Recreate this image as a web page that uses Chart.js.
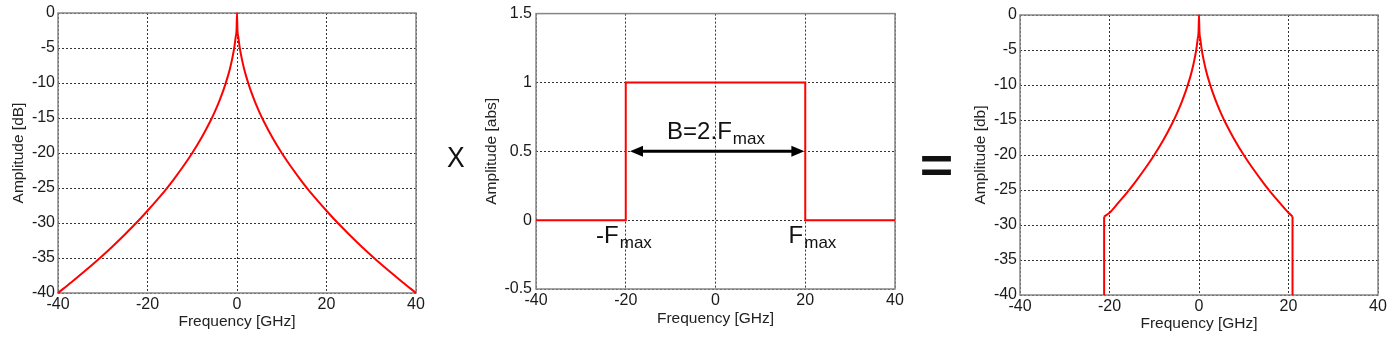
<!DOCTYPE html>
<html><head><meta charset="utf-8">
<script src="https://cdn.jsdelivr.net/npm/chart.js@4.4.0/dist/chart.umd.min.js"></script>
<style>
html,body{margin:0;padding:0;background:#fff;}
body{width:1390px;height:338px;position:relative;overflow:hidden;font-family:"Liberation Sans",Arial,sans-serif;}
.box{position:absolute;top:0;height:338px;}
#ops{position:absolute;left:0;top:0;pointer-events:none;}
</style></head><body>
<div class="box" style="left:0;width:430px"><canvas id="c1"></canvas></div>
<div class="box" style="left:470px;width:440px"><canvas id="c2"></canvas></div>
<div class="box" style="left:960px;width:430px"><canvas id="c3"></canvas></div>
<canvas id="ops" width="1390" height="338"></canvas>
<script>
// ---- data ----
const freqTicks = [-40, -20, 0, 20, 40];
const dbTicks = [0, -5, -10, -15, -20, -25, -30, -35, -40];
const absTicks = [1.5, 1, 0.5, 0, -0.5];

// Spectrum (left chart)
const spectrumFreq = [-40, -37, -34, -31, -28, -25, -22, -20, -18, -16, -14, -12, -10, -8, -6, -5, -4, -3, -2, -1.5, -1, -0.6, -0.3, -0.1, 0,
  0.1, 0.3, 0.6, 1, 1.5, 2, 3, 4, 5, 6, 8, 10, 12, 14, 16, 18, 20, 22, 25, 28, 31, 34, 37, 40];
const spectrumDb = [-40, -38.45, -36.85, -35.2, -33.45, -31.6, -29.65, -28.25, -26.8, -25.3, -23.65, -21.9, -20.0, -17.9, -15.5, -14.15, -12.65, -10.95, -8.95, -7.75, -6.3, -4.9, -3.45, -2.4, 0,
  -2.4, -3.45, -4.9, -6.3, -7.75, -8.95, -10.95, -12.65, -14.15, -15.5, -17.9, -20.0, -21.9, -23.65, -25.3, -26.8, -28.25, -29.65, -31.6, -33.45, -35.2, -36.85, -38.45, -40];

// Rectangular window (middle chart)
const windowFreq = [-40, -20, -20, 20, 20, 40];
const windowAmp = [0, 0, 1, 1, 0, 0];

// Filtered spectrum (right chart): curve inside the band, then the band edges
const filteredFreq = [-21.2, -20, -18, -16, -14, -12, -10, -8, -6, -5, -4, -3, -2, -1.5, -1, -0.6, -0.3, -0.1, 0,
  0.1, 0.3, 0.6, 1, 1.5, 2, 3, 4, 5, 6, 8, 10, 12, 14, 16, 18, 20, 20.9];
const filteredDb = [-28.8, -28.25, -26.8, -25.3, -23.65, -21.9, -20.0, -17.9, -15.5, -14.15, -12.65, -10.95, -8.95, -7.75, -6.3, -4.9, -3.45, -2.4, 0,
  -2.4, -3.45, -4.9, -6.3, -7.75, -8.95, -10.95, -12.65, -14.15, -15.5, -17.9, -20.0, -21.9, -23.65, -25.3, -26.8, -28.25, -28.8];
const edgeLeftFreq = [-21.2, -21.2], edgeLeftDb = [-40, -28.8];
const edgeRightFreq = [20.9, 20.9], edgeRightDb = [-28.8, -40];

// Annotation values for the middle chart
const arrowFrom = -19.05, arrowTo = 19.8, arrowLevel = 0.5;
const bwLabel = ['B=2.F', 'max'];
const fmaxLeft = ['-F', 'max'];
const fmaxRight = ['F', 'max'];
const operators = ['X', '='];

// ---- helpers ----
const FONT = '"Liberation Sans", Arial, sans-serif';
const pts = (xs, ys) => xs.map((x, i) => ({x, y: ys[i]}));

const borderPlugin = {
  id: 'frame',
  beforeDatasetsDraw(chart) {
    const {ctx, chartArea: a} = chart;
    ctx.save();
    ctx.strokeStyle = '#868686';
    ctx.lineWidth = 1.5;
    ctx.strokeRect(a.left, a.top, a.right - a.left, a.bottom - a.top);
    ctx.restore();
  }
};

function ds(xs, ys, smooth) {
  return {
    data: pts(xs, ys),
    borderColor: '#ff0000', borderWidth: 2, pointRadius: 0,
    tension: smooth ? 0.4 : 0,
    cubicInterpolationMode: smooth ? 'monotone' : 'default',
    clip: 3, fill: false
  };
}

function makeChart(id, datasets, yTicks, yTitle, geo, extraPlugins) {
  return new Chart(document.getElementById(id), {
    type: 'line',
    data: { datasets },
    options: {
      responsive: true, maintainAspectRatio: false, animation: false, events: [],
      layout: { padding: { top: geo.top, right: geo.right, left: 0, bottom: 0 } },
      plugins: { legend: { display: false }, tooltip: { enabled: false } },
      scales: {
        x: {
          type: 'linear', min: -40, max: 40,
          afterBuildTicks: s => { s.ticks = freqTicks.map(v => ({value: v})); },
          afterFit: s => { s.height = geo.xh; },
          ticks: { autoSkip: false, maxRotation: 0, padding: geo.xpad, color: '#1a1a1a',
                   font: { family: FONT, size: 16, lineHeight: 1.2 }, callback: v => String(v) },
          grid: { color: 'rgba(0,0,0,0.8)', lineWidth: 1, drawTicks: false },
          border: { display: false, dash: [2, 2] },
          title: { display: true, text: 'Frequency [GHz]', color: '#222',
                   font: { family: FONT, size: 15.5, lineHeight: 1.2 }, padding: { top: 0, bottom: geo.xtb } }
        },
        y: {
          type: 'linear', min: geo.ymin, max: geo.ymax,
          afterBuildTicks: s => { s.ticks = yTicks.map(v => ({value: v})); },
          afterFit: s => { s.width = geo.yw; },
          ticks: { autoSkip: false, padding: geo.ypad, color: '#1a1a1a',
                   font: { family: FONT, size: 16, lineHeight: 1.2 }, callback: v => String(v) },
          grid: { color: 'rgba(0,0,0,0.8)', lineWidth: 1, drawTicks: false },
          border: { display: false, dash: [2, 2] },
          title: { display: true, text: yTitle, color: '#222',
                   font: { family: FONT, size: 15.5, lineHeight: 1.2 }, padding: { top: geo.ytt, bottom: 0 } }
        }
      }
    },
    plugins: [borderPlugin].concat(extraPlugins || [])
  });
}

function subText(ctx, main, sub, x, yMain, yOffSub, align, mainSize, subSize) {
  ctx.font = mainSize + 'px ' + FONT;
  const wm = ctx.measureText(main).width;
  ctx.font = subSize + 'px ' + FONT;
  const ws = ctx.measureText(sub).width;
  const start = align === 'center' ? x - (wm + ws) / 2 : x - wm;
  ctx.textBaseline = 'alphabetic';
  ctx.textAlign = 'left';
  ctx.font = mainSize + 'px ' + FONT;
  ctx.fillText(main, start, yMain);
  ctx.font = subSize + 'px ' + FONT;
  ctx.fillText(sub, start + wm + 1, yMain + yOffSub);
}

const annotPlugin = {
  id: 'annot',
  afterDatasetsDraw(chart) {
    const {ctx, scales: {x, y}} = chart;
    ctx.save();
    ctx.fillStyle = '#000';
    ctx.strokeStyle = '#000';
    const x1 = x.getPixelForValue(arrowFrom), x2 = x.getPixelForValue(arrowTo), ya = y.getPixelForValue(arrowLevel);
    const hl = 13, hw = 5.5;
    ctx.lineWidth = 3;
    ctx.beginPath(); ctx.moveTo(x1 + hl - 1, ya); ctx.lineTo(x2 - hl + 1, ya); ctx.stroke();
    ctx.beginPath(); ctx.moveTo(x1, ya); ctx.lineTo(x1 + hl, ya - hw); ctx.lineTo(x1 + hl, ya + hw); ctx.closePath(); ctx.fill();
    ctx.beginPath(); ctx.moveTo(x2, ya); ctx.lineTo(x2 - hl, ya - hw); ctx.lineTo(x2 - hl, ya + hw); ctx.closePath(); ctx.fill();
    ctx.fillStyle = '#111';
    subText(ctx, bwLabel[0], bwLabel[1], x.getPixelForValue(0), ya - 12.6, 5, 'center', 24, 17);
    const y0 = y.getPixelForValue(0);
    subText(ctx, fmaxLeft[0], fmaxLeft[1], x.getPixelForValue(-20) - 7, y0 + 22.7, 5, 'end', 24, 17);
    subText(ctx, fmaxRight[0], fmaxRight[1], x.getPixelForValue(20) - 2, y0 + 22.7, 5, 'end', 24, 17);
    ctx.restore();
  }
};

makeChart('c1', [ds(spectrumFreq, spectrumDb, true)], dbTicks, 'Amplitude [dB]',
  { top: 13, right: 14, xh: 45, yw: 58, ymin: -40, ymax: 0, xpad: 2, ypad: 3, xtb: 7, ytt: 9 });
makeChart('c2', [ds(windowFreq, windowAmp, false)], absTicks, 'Amplitude [abs]',
  { top: 9, right: 15, xh: 49, yw: 66, ymin: -0.5, ymax: 1.5, xpad: 2, ypad: 4, xtb: 10, ytt: 12.7 }, [annotPlugin]);
makeChart('c3', [ds(filteredFreq, filteredDb, true), ds(edgeLeftFreq, edgeLeftDb, false), ds(edgeRightFreq, edgeRightDb, false)],
  dbTicks, 'Amplitude [db]',
  { top: 15, right: 12, xh: 43, yw: 60, ymin: -40, ymax: 0, xpad: 2, ypad: 3, xtb: 5, ytt: 11.7 });

// operators between the charts, fitted into their glyph boxes
(function () {
  const ctx = document.getElementById('ops').getContext('2d');
  function fitText(str, font, bx, by, bw, bh) {
    ctx.save();
    ctx.font = font;
    ctx.textAlign = 'left';
    ctx.textBaseline = 'alphabetic';
    const m = ctx.measureText(str);
    const w = m.actualBoundingBoxLeft + m.actualBoundingBoxRight;
    const h = m.actualBoundingBoxAscent + m.actualBoundingBoxDescent;
    ctx.translate(bx, by);
    ctx.scale(bw / w, bh / h);
    ctx.fillStyle = '#111';
    ctx.fillText(str, m.actualBoundingBoxLeft, m.actualBoundingBoxAscent);
    ctx.restore();
  }
  fitText(operators[0], '28px ' + FONT, 447, 147, 18, 20);
  fitText(operators[1], 'bold 44px ' + FONT, 921, 156, 30, 19);
})();
</script>
</body></html>
